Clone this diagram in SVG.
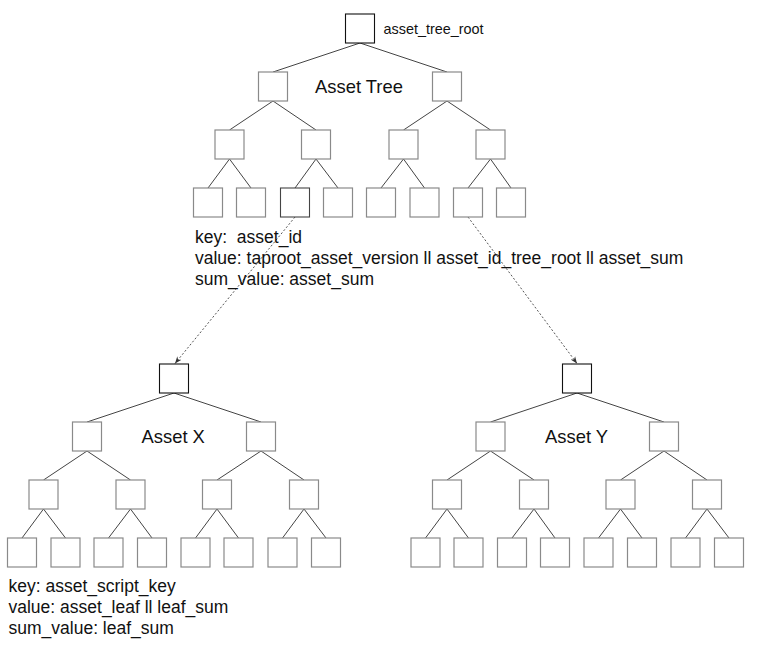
<svg xmlns="http://www.w3.org/2000/svg" width="760" height="646" viewBox="0 0 760 646">
<style>
.b{fill:#fff;stroke:#8a8a8a;stroke-width:1.2}
.k{fill:#fff;stroke:#111;stroke-width:1.1}
.g{fill:#fff;stroke:#444;stroke-width:1.1}
.e{stroke:#444;stroke-width:1;fill:none}
.d{stroke:#555;stroke-width:1;fill:none;stroke-dasharray:2 2}
text{font-family:"Liberation Sans",Arial,Helvetica,sans-serif;fill:#111}
.t{font-size:18.4px}
.s{font-size:14.4px}
.m{font-size:17.5px;white-space:pre}
</style>
<defs>
<marker id="ah" viewBox="0 0 10 10" refX="10" refY="5" markerWidth="7" markerHeight="7" orient="auto" markerUnits="userSpaceOnUse">
<path d="M0,1 L10,5 L0,9 L3,5 z" fill="#333"/>
</marker>
</defs>
<rect width="760" height="646" fill="#fff"/>
<g id="connectors">
<path class="e" d="M360,43L273,72M360,43L447,72M273,101L229.5,130M273,101L316,130M447,101L403.5,130M447,101L490.5,130M229.5,159L208,188M229.5,159L251,188M316,159L295,188M316,159L338,188M403.5,159L381,188M403.5,159L424.5,188M490.5,159L468,188M490.5,159L511,188"/>
<path class="e" d="M174,393L87,422M174,393L261,422M87,451L43.5,480M87,451L130.5,480M261,451L217,480M261,451L304,480M43.5,509L22,538M43.5,509L65.5,538M130.5,509L108.5,538M130.5,509L152,538M217,509L195.5,538M217,509L238.5,538M304,509L282.5,538M304,509L326,538"/>
<path class="e" d="M577,393L490.5,422M577,393L664,422M490.5,451L447,480M490.5,451L534,480M664,451L620.5,480M664,451L707,480M447,509L425.5,538M447,509L468.5,538M534,509L512,538M534,509L555,538M620.5,509L598.5,538M620.5,509L642,538M707,509L685.5,538M707,509L729,538"/>
<path class="d" d="M295,217L175,363.5" marker-end="url(#ah)"/>
<path class="d" d="M468,217L577,363.5" marker-end="url(#ah)"/>
</g>
<g id="tree-root"><rect class="k" x="345.5" y="14" width="29" height="29"/></g>
<g id="t1a"><rect class="b" x="258.5" y="72" width="29" height="29"/></g>
<g id="t1b"><rect class="b" x="432.5" y="72" width="29" height="29"/></g>
<g id="t2a"><rect class="b" x="215" y="130" width="29" height="29"/></g>
<g id="t2b"><rect class="b" x="301.5" y="130" width="29" height="29"/></g>
<g id="t2c"><rect class="b" x="389" y="130" width="29" height="29"/></g>
<g id="t2d"><rect class="b" x="476" y="130" width="29" height="29"/></g>
<g id="t3a"><rect class="b" x="193.5" y="188" width="29" height="29"/></g>
<g id="t3b"><rect class="b" x="236.5" y="188" width="29" height="29"/></g>
<g id="t3c"><rect class="g" x="280.5" y="188" width="29" height="29"/></g>
<g id="t3d"><rect class="b" x="323.5" y="188" width="29" height="29"/></g>
<g id="t3e"><rect class="b" x="366.5" y="188" width="29" height="29"/></g>
<g id="t3f"><rect class="b" x="410" y="188" width="29" height="29"/></g>
<g id="t3g"><rect class="b" x="453.5" y="188" width="29" height="29"/></g>
<g id="t3h"><rect class="b" x="496.5" y="188" width="29" height="29"/></g>
<g id="x-root"><rect class="k" x="159.5" y="364" width="29" height="29"/></g>
<g id="x1a"><rect class="b" x="72.5" y="422" width="29" height="29"/></g>
<g id="x1b"><rect class="b" x="246.5" y="422" width="29" height="29"/></g>
<g id="x2a"><rect class="b" x="29" y="480" width="29" height="29"/></g>
<g id="x2b"><rect class="b" x="116" y="480" width="29" height="29"/></g>
<g id="x2c"><rect class="b" x="202.5" y="480" width="29" height="29"/></g>
<g id="x2d"><rect class="b" x="289.5" y="480" width="29" height="29"/></g>
<g id="x3a"><rect class="b" x="7.5" y="538" width="29" height="29"/></g>
<g id="x3b"><rect class="b" x="51" y="538" width="29" height="29"/></g>
<g id="x3c"><rect class="b" x="94" y="538" width="29" height="29"/></g>
<g id="x3d"><rect class="b" x="137.5" y="538" width="29" height="29"/></g>
<g id="x3e"><rect class="b" x="181" y="538" width="29" height="29"/></g>
<g id="x3f"><rect class="b" x="224" y="538" width="29" height="29"/></g>
<g id="x3g"><rect class="b" x="268" y="538" width="29" height="29"/></g>
<g id="x3h"><rect class="b" x="311.5" y="538" width="29" height="29"/></g>
<g id="y-root"><rect class="k" x="562.5" y="364" width="29" height="29"/></g>
<g id="y1a"><rect class="b" x="476" y="422" width="29" height="29"/></g>
<g id="y1b"><rect class="b" x="649.5" y="422" width="29" height="29"/></g>
<g id="y2a"><rect class="b" x="432.5" y="480" width="29" height="29"/></g>
<g id="y2b"><rect class="b" x="519.5" y="480" width="29" height="29"/></g>
<g id="y2c"><rect class="b" x="606" y="480" width="29" height="29"/></g>
<g id="y2d"><rect class="b" x="692.5" y="480" width="29" height="29"/></g>
<g id="y3a"><rect class="b" x="411" y="538" width="29" height="29"/></g>
<g id="y3b"><rect class="b" x="454" y="538" width="29" height="29"/></g>
<g id="y3c"><rect class="b" x="497.5" y="538" width="29" height="29"/></g>
<g id="y3d"><rect class="b" x="540.5" y="538" width="29" height="29"/></g>
<g id="y3e"><rect class="b" x="584" y="538" width="29" height="29"/></g>
<g id="y3f"><rect class="b" x="627.5" y="538" width="29" height="29"/></g>
<g id="y3g"><rect class="b" x="671" y="538" width="29" height="29"/></g>
<g id="y3h"><rect class="b" x="714.5" y="538" width="29" height="29"/></g>
<g id="labels">
<text class="s" x="383.5" y="34">asset_tree_root</text>
<text class="t" x="315" y="93">Asset Tree</text>
<text class="t" x="141.5" y="443">Asset X</text>
<text class="t" x="545" y="443">Asset Y</text>
<text class="m" x="195" y="243" xml:space="preserve">key:  asset_id</text>
<text class="m" x="195" y="264">value: taproot_asset_version ll asset_id_tree_root ll asset_sum</text>
<text class="m" x="195" y="285">sum_value: asset_sum</text>
<text class="m" x="8.5" y="592">key: asset_script_key</text>
<text class="m" x="8.5" y="613">value: asset_leaf ll leaf_sum</text>
<text class="m" x="8.5" y="634">sum_value: leaf_sum</text>
</g>
</svg>
